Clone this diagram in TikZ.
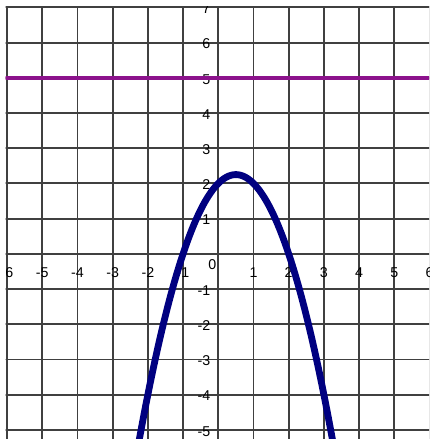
\documentclass[tikz,border=0pt]{standalone}
\usepackage{fontspec}
\setmainfont{Liberation Sans}
\definecolor{linepurple}{RGB}{140,18,140}
\definecolor{curvenavy}{RGB}{0,0,128}
\tikzset{
  gridline/.style={line width=1.5pt,black!75},
  numlbl/.style={font=\fontsize{11.5}{13}\selectfont,inner sep=0pt}
}

\begin{document}
\begin{tikzpicture}
  \useasboundingbox (-6.2,-5.26) rectangle (5.99,7.21);
  \clip (-6.04,-5.26) rectangle (5.99,7.03);

  \foreach \gx in {-6,...,6} {
    \draw[gridline] (\gx,-5.4) -- (\gx,7.1);
  }
  \foreach \gy in {-5,...,7} {
    \draw[gridline] (-6.1,\gy) -- (6.1,\gy);
  }

  % x axis numbers
  \foreach \index in {-6,...,-1,1,2,...,6} {
    \node[numlbl] (xlbl\index) at (\index,-0.53) {\index};
  }
  \node[numlbl] (origin) at (-0.17,-0.3) {0};

  % y axis numbers
  \foreach \index in {-5,...,-1,1,2,...,7} {
    \node[numlbl,anchor=east] (ylbl\index) at (-0.22,\index-0.04) {\index};
  }

  \draw[line width=3.2pt,linepurple] (-6.1,5) -- (6.1,5);
  \draw[line width=5.5pt,curvenavy,line join=round,samples=120,domain=-2.3:3.3]
    plot (\x,{-(\x)*(\x)+\x+2});
\end{tikzpicture}
\end{document}
